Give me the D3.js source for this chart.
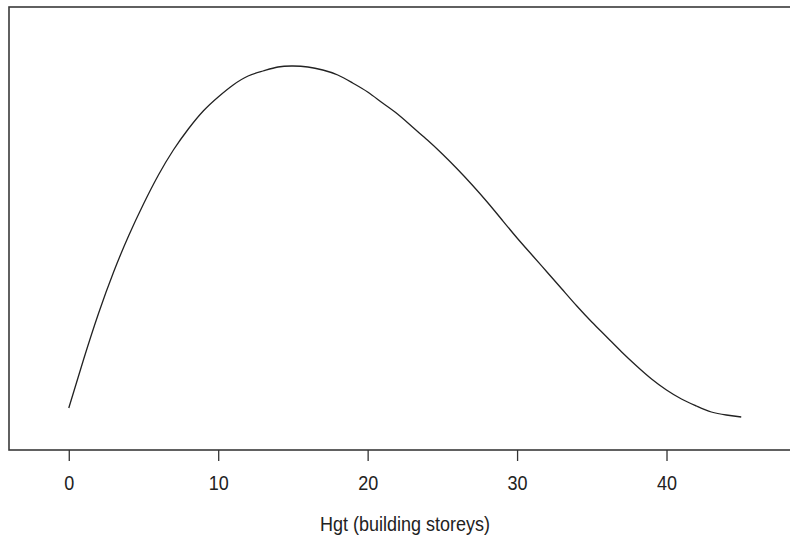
<!DOCTYPE html>
<html>
<head>
<meta charset="utf-8">
<script src="https://cdn.jsdelivr.net/npm/d3@7"></script>
<style>
  html, body { margin: 0; padding: 0; background: #fff; }
  svg { display: block; }
  text { font-family: "Liberation Sans", Arial, sans-serif; fill: #222; }
</style>
</head>
<body>
<svg id="chart" width="790" height="542"></svg>
<script>
// Height in building storeys
const storeys = [0, 1, 2, 3, 4, 5, 6, 7, 8, 9, 10, 11, 12, 13, 14, 15, 16, 17, 18, 19, 20,
  21, 22, 23, 24, 25, 26, 27, 28, 29, 30, 31, 32, 33, 34, 35, 36, 37, 38, 39, 40,
  41, 42, 43, 44, 45];
// Fitted response along height
const effect = [0.42, 0.91, 1.37, 1.78, 2.14, 2.46, 2.75, 3.00, 3.21, 3.39, 3.53,
  3.65, 3.74, 3.79, 3.83, 3.84, 3.83, 3.80, 3.75, 3.67, 3.58,
  3.47, 3.36, 3.23, 3.10, 2.96, 2.81, 2.65, 2.48, 2.30, 2.12,
  1.95, 1.78, 1.61, 1.44, 1.28, 1.13, 0.98, 0.84, 0.71, 0.60,
  0.51, 0.44, 0.38, 0.35, 0.33];
const xTicks = [0, 10, 20, 30, 40];
const xTitle = "Hgt (building storeys)";

const svg = d3.select("#chart");
const box = { left: 9, top: 7, right: 801, bottom: 450 };

const x = d3.scaleLinear().domain([-4, 49]).range([box.left, box.right]);
const y = d3.scaleLinear().domain([0, 4.43]).range([box.bottom, box.top]);

// Plot frame
svg.append("rect")
  .attr("x", box.left).attr("y", box.top)
  .attr("width", box.right - box.left).attr("height", box.bottom - box.top)
  .attr("fill", "none").attr("stroke", "#3a3a3a").attr("stroke-width", 1.6);

// Bottom axis: ticks and labels only
const axis = d3.axisBottom(x).tickValues(xTicks).tickSize(11).tickPadding(15)
  .tickFormat(d3.format("d"));
const gx = svg.append("g").attr("transform", `translate(0,${box.bottom})`).call(axis);
gx.select(".domain").remove();
gx.selectAll(".tick line").attr("stroke", "#333").attr("stroke-width", 1.3);
gx.selectAll(".tick text")
  .attr("font-size", 18).attr("font-family", "Liberation Sans, Arial, sans-serif")
  .attr("fill", "#222")
  .attr("y", 0).attr("dy", null)
  .attr("transform", "translate(0,40) scale(1,1.1)");

// Axis title
svg.append("text")
  .attr("text-anchor", "middle").attr("font-size", 18)
  .attr("transform", `translate(${x(22.5)},531) scale(1,1.1)`)
  .text(xTitle);

// Response curve
const line = d3.line()
  .x((d, i) => x(storeys[i]))
  .y(d => y(d))
  .curve(d3.curveNatural);

svg.append("path")
  .datum(effect)
  .attr("d", line)
  .attr("fill", "none")
  .attr("stroke", "#222")
  .attr("stroke-width", 1.3);
</script>
</body>
</html>
